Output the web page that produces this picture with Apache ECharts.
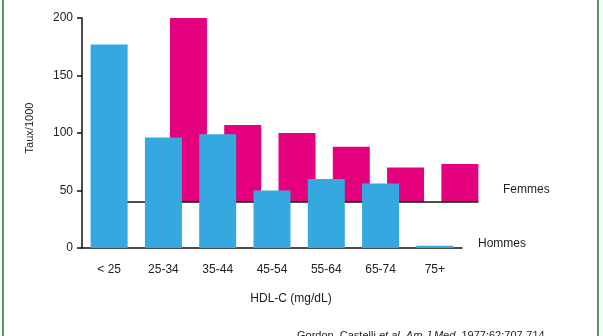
<!DOCTYPE html>
<html>
<head>
<meta charset="utf-8">
<script src="https://cdn.jsdelivr.net/npm/echarts@6/dist/echarts.min.js"></script>
<style>
  html, body { margin: 0; padding: 0; background: #fff; }
  #chart { width: 603px; height: 336px; }
</style>
</head>
<body>
<div id="chart"></div>
<script>
// HDL-C classes and coronary heart disease rate per 1000, by sex
const categories = ['< 25', '25-34', '35-44', '45-54', '55-64', '65-74', '75+'];
const hommes = [177, 96, 99, 50, 60, 56, 2];
const femmes = [null, 200, 107, 100, 88, 70, 73];
const femmesBase = 40;           // the women's row stands on a raised floor
const yTicks = [0, 50, 100, 150, 200];

const FONT = '"Liberation Sans", Arial, sans-serif';
const BLUE = '#35a8df';
const PINK = '#e5007e';
const INK = '#222';

// Stacked pink bars: an invisible base up to the floor, then the visible part
const femmesFloor = femmes.map(v => (v == null ? null : femmesBase));
const femmesTop = femmes.map(v => (v == null ? null : v - femmesBase));

const chart = echarts.init(document.getElementById('chart'), null, { renderer: 'canvas' });

const yMin = yTicks[0];
const yMax = yTicks[yTicks.length - 1];
const yStep = yTicks[1] - yTicks[0];

chart.setOption({
  animation: false,
  backgroundColor: '#fff',
  grid: [
    { left: 82, width: 380, top: 18, bottom: 88 },   // Hommes (front)
    { left: 107, width: 380, top: 18, bottom: 88 }   // Femmes (back, shifted)
  ],
  xAxis: [
    {
      type: 'category', gridIndex: 0, data: categories,
      axisLine: { lineStyle: { color: '#111', width: 1.5 } },
      axisTick: { show: false },
      axisLabel: { color: INK, fontSize: 12, fontFamily: FONT, margin: 16 },
      name: 'HDL-C (mg/dL)', nameLocation: 'middle', nameGap: 45,
      nameTextStyle: { color: INK, fontSize: 12, fontFamily: FONT, padding: [0, 0, 0, 38] }
    },
    {
      type: 'category', gridIndex: 1, data: categories,
      axisLine: { show: false }, axisTick: { show: false }, axisLabel: { show: false }
    }
  ],
  yAxis: [
    {
      type: 'value', gridIndex: 0, min: yMin, max: yMax, interval: yStep,
      axisLine: { show: true, lineStyle: { color: '#111', width: 1.5 } },
      axisTick: { show: true, length: 5, lineStyle: { color: '#111', width: 1.5 } },
      axisLabel: { color: INK, fontSize: 12, fontFamily: FONT, margin: 9 },
      splitLine: { show: false },
      name: 'Taux/1000', nameLocation: 'middle', nameGap: 47, nameRotate: 90,
      nameTextStyle: { color: INK, fontSize: 11, fontFamily: FONT, padding: [0, 0, 0, 10] }
    },
    {
      type: 'value', gridIndex: 1, min: yMin, max: yMax, interval: yStep,
      show: false
    }
  ],
  series: [
    {
      name: 'Femmes base', type: 'bar', xAxisIndex: 1, yAxisIndex: 1,
      stack: 'femmes', data: femmesFloor, barWidth: 37,
      itemStyle: { color: 'transparent' }, silent: true, z: 1
    },
    {
      name: 'Femmes', type: 'bar', xAxisIndex: 1, yAxisIndex: 1,
      stack: 'femmes', data: femmesTop, barWidth: 37,
      itemStyle: { color: PINK }, z: 1
    },
    {
      // floor line of the women's row, from the first band to the last bar's edge
      name: 'Femmes sol', type: 'custom', xAxisIndex: 1, yAxisIndex: 1,
      data: [[0, femmesBase]], z: 2, silent: true,
      renderItem: function (params, api) {
        const a = api.coord([0, api.value(1)]);
        const b = api.coord([categories.length - 1, api.value(1)]);
        const half = 37 / 2;
        return {
          type: 'line',
          shape: { x1: a[0] - half, y1: a[1], x2: b[0] + half, y2: b[1] },
          style: { stroke: '#111', lineWidth: 1.5 }
        };
      }
    },
    {
      name: 'Hommes', type: 'bar', xAxisIndex: 0, yAxisIndex: 0,
      data: hommes, barWidth: 37,
      itemStyle: { color: BLUE }, z: 3
    }
  ],
  graphic: [
    {
      type: 'text', left: 503, top: 184, z: 10,
      style: { text: 'Femmes', fill: INK, fontSize: 12, fontFamily: FONT }
    },
    {
      type: 'text', left: 478, top: 238, z: 10,
      style: { text: 'Hommes', fill: INK, fontSize: 12, fontFamily: FONT }
    },
    {
      type: 'text', left: 297, top: 330, z: 10,
      style: {
        text: 'Gordon, Castelli {i|et al. Am J Med.} 1977;62:707-714',
        fill: INK, fontSize: 11, fontFamily: FONT,
        rich: { i: { fontStyle: 'italic', fill: INK, fontSize: 11, fontFamily: FONT } }
      }
    },
    // green frame edges
    {
      type: 'rect', shape: { x: 2, y: 0, width: 2, height: 336 },
      style: { fill: '#4f9a5c' }, z: 20
    },
    {
      type: 'rect', shape: { x: 597, y: 0, width: 2, height: 336 },
      style: { fill: '#4f9a5c' }, z: 20
    }
  ]
});
</script>
</body>
</html>
